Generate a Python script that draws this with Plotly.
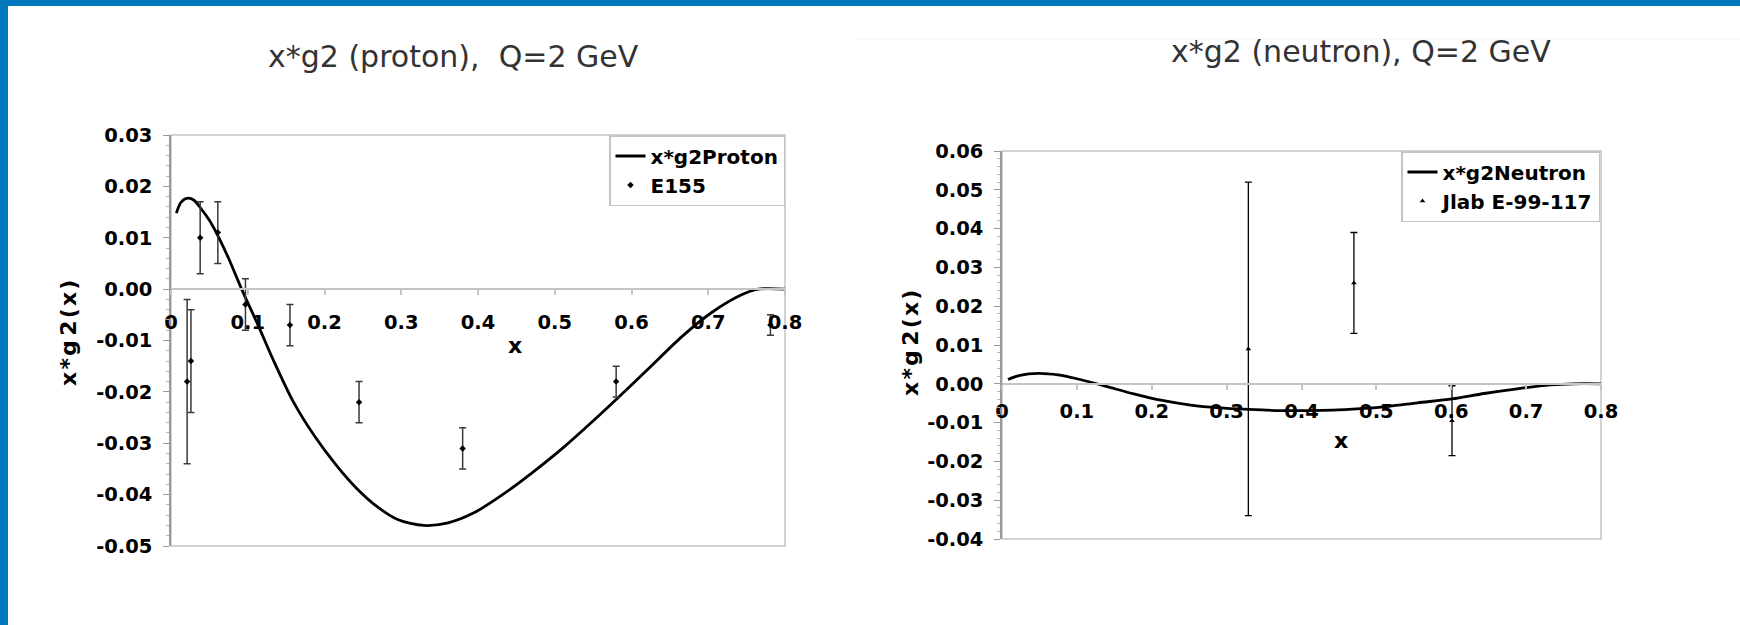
import plotly.graph_objects as go

W, H = 1740, 625

# ---------------- data ----------------
proton_curve_x = [0.007, 0.013, 0.022, 0.030, 0.040, 0.050, 0.059, 0.075, 0.092, 0.114, 0.133,
                  0.160, 0.187, 0.215, 0.242, 0.269, 0.296, 0.329, 0.361, 0.394, 0.432,
                  0.470, 0.513, 0.557, 0.580, 0.622, 0.666, 0.704, 0.742, 0.765, 0.800]
proton_curve_y = [0.0148, 0.0169, 0.0177, 0.0173, 0.0155, 0.0134, 0.0110, 0.0060, 0.0000, -0.0072, -0.0137,
                  -0.0221, -0.0286, -0.0342, -0.0388, -0.0424, -0.0449, -0.0460, -0.0455, -0.0436, -0.0400,
                  -0.0358, -0.0306, -0.0247, -0.0215, -0.0155, -0.0092, -0.0046, -0.0012, 0.0000, 0.0000]

e155_x = [0.021, 0.026, 0.038, 0.061, 0.097, 0.155, 0.245, 0.380, 0.580, 0.781]
e155_y = [-0.018, -0.014, 0.010, 0.011, -0.003, -0.007, -0.022, -0.031, -0.018, -0.007]
e155_err = [0.016, 0.010, 0.007, 0.006, 0.005, 0.004, 0.004, 0.004, 0.003, 0.002]

neutron_curve_x = [0.008, 0.024, 0.049, 0.075, 0.100, 0.138, 0.176, 0.214, 0.252, 0.290, 0.329,
                   0.372, 0.404, 0.441, 0.479, 0.517, 0.555, 0.601, 0.644, 0.688, 0.732, 0.764, 0.800]
neutron_curve_y = [0.0011, 0.0022, 0.0027, 0.0023, 0.0013, -0.0006, -0.0026, -0.0043, -0.0055, -0.0062, -0.0066,
                   -0.0069, -0.0069, -0.0068, -0.0064, -0.0058, -0.0049, -0.0039, -0.0025, -0.0013, -0.0003, 0.0000, 0.0000]

jlab_x = [0.329, 0.470, 0.601]
jlab_y = [0.009, 0.026, -0.0095]
jlab_err = [0.043, 0.013, 0.0090]

x_tickvals = [0, 0.1, 0.2, 0.3, 0.4, 0.5, 0.6, 0.7, 0.8]
x_ticktext = ["0", "0.1", "0.2", "0.3", "0.4", "0.5", "0.6", "0.7", "0.8"]
p_y_tickvals = [0.03, 0.02, 0.01, 0.0, -0.01, -0.02, -0.03, -0.04, -0.05]
p_y_ticktext = ["0.03", "0.02", "0.01", "0.00", "-0.01", "-0.02", "-0.03", "-0.04", "-0.05"]
n_y_tickvals = [0.06, 0.05, 0.04, 0.03, 0.02, 0.01, 0.0, -0.01, -0.02, -0.03, -0.04]
n_y_ticktext = ["0.06", "0.05", "0.04", "0.03", "0.02", "0.01", "0.00", "-0.01", "-0.02", "-0.03", "-0.04"]

p_yrange = [-0.05, 0.03]
n_yrange = [-0.04, 0.06]

# ---------------- layout geometry (pixels) ----------------
def px_x(x):
    return x / W

def px_y(y):
    return 1 - y / H

p_dom_x = [px_x(171), px_x(785)]
p_dom_y = [px_y(546), px_y(135)]
n_dom_x = [px_x(1002), px_x(1601)]
n_dom_y = [px_y(539), px_y(151)]

def zero_pos(dom, rng):
    f = (0 - rng[0]) / (rng[1] - rng[0])
    return dom[0] + f * (dom[1] - dom[0])

FONT = "DejaVu Sans"
tickfont = dict(family=FONT, size=19.5, color="black", weight="bold")
AXC = "#c4c4c4"
YAXC = "#9a9a9a"

fig = go.Figure()

fig.add_trace(go.Scatter(x=proton_curve_x, y=proton_curve_y, mode="lines",
                         line=dict(color="black", width=2.8, shape="spline", smoothing=0.8),
                         name="x*g2Proton", xaxis="x", yaxis="y", legend="legend"))
fig.add_trace(go.Scatter(x=e155_x, y=e155_y, mode="markers",
                         marker=dict(symbol="diamond", size=5, color="black"),
                         error_y=dict(type="data", array=e155_err, color="#3a3a3a", thickness=1.5, width=3.5),
                         name="E155", xaxis="x", yaxis="y", legend="legend"))

fig.add_trace(go.Scatter(x=neutron_curve_x, y=neutron_curve_y, mode="lines",
                         line=dict(color="black", width=2.8, shape="spline", smoothing=0.8),
                         name="x*g2Neutron", xaxis="x2", yaxis="y2", legend="legend2"))
fig.add_trace(go.Scatter(x=jlab_x, y=jlab_y, mode="markers",
                         marker=dict(symbol="triangle-up", size=5, color="black"),
                         error_y=dict(type="data", array=jlab_err, color="black", thickness=1.3, width=3.5),
                         name="Jlab E-99-117", xaxis="x2", yaxis="y2", legend="legend2"))

def xaxis_cfg(dom, pos, standoff):
    return dict(domain=dom, range=[0, 0.8], anchor="free", position=pos,
                tickmode="array", tickvals=x_tickvals, ticktext=x_ticktext,
                showline=True, linecolor=AXC, linewidth=1.5,
                ticks="outside", ticklen=5, tickcolor=AXC, tickwidth=1.5,
                ticklabelstandoff=standoff, automargin=False,
                showgrid=False, zeroline=False, tickfont=tickfont, fixedrange=True)

def yaxis_cfg(dom, rng, vals, text, anchor):
    return dict(domain=dom, range=rng, anchor=anchor,
                tickmode="array", tickvals=vals, ticktext=text,
                showline=True, linecolor=YAXC, linewidth=1.5,
                ticks="outside", ticklen=6, tickcolor=YAXC, tickwidth=1.2,
                ticklabelstandoff=7, automargin=False,
                minor=dict(tickmode="linear", tick0=0, dtick=0.002, ticks="outside",
                           ticklen=3, tickcolor="#b5b5b5", tickwidth=1),
                showgrid=False, zeroline=True, zerolinecolor=AXC, zerolinewidth=1.5,
                tickfont=tickfont, fixedrange=True)

legend_common = dict(bgcolor="white", bordercolor="#c4c4c4", borderwidth=1.5,
                     font=dict(family=FONT, size=20, color="black", weight="bold"),
                     itemwidth=30, tracegroupgap=0, xanchor="right", yanchor="top",
                     itemclick=False, itemdoubleclick=False)

fig.update_layout(
    template="none",
    width=W, height=H, autosize=False,
    margin=dict(l=0, r=0, t=0, b=0, pad=0, autoexpand=False),
    paper_bgcolor="white", plot_bgcolor="white",
    xaxis=xaxis_cfg(p_dom_x, zero_pos(p_dom_y, p_yrange), 11),
    yaxis=yaxis_cfg(p_dom_y, p_yrange, p_y_tickvals, p_y_ticktext, "x"),
    xaxis2=xaxis_cfg(n_dom_x, zero_pos(n_dom_y, n_yrange), 5),
    yaxis2=yaxis_cfg(n_dom_y, n_yrange, n_y_tickvals, n_y_ticktext, "x2"),
    legend=dict(x=px_x(785), y=px_y(135), **legend_common),
    legend2=dict(x=px_x(1600), y=px_y(151), **legend_common),
    showlegend=True,
)

shapes = [
    # plot frames
    dict(type="rect", xref="x domain", yref="y domain", x0=0, x1=1, y0=0, y1=1,
         line=dict(color=AXC, width=1.5), layer="below"),
    dict(type="rect", xref="x2 domain", yref="y2 domain", x0=0, x1=1, y0=0, y1=1,
         line=dict(color=AXC, width=1.5), layer="below"),
    # faint slide image edge
    dict(type="line", xref="paper", yref="paper", x0=px_x(856), x1=1, y0=px_y(39), y1=px_y(39),
         line=dict(color="#f5f5f5", width=1)),
    # blue slide border
    dict(type="rect", xref="paper", yref="paper", x0=0, x1=1, y0=px_y(6), y1=1,
         fillcolor="#0078BE", line=dict(width=0)),
    dict(type="rect", xref="paper", yref="paper", x0=0, x1=px_x(8), y0=0, y1=1,
         fillcolor="#0078BE", line=dict(width=0)),
]
fig.update_layout(shapes=shapes)

title_font = dict(family=FONT, size=30, color="#333333")
axis_title_font = dict(family=FONT, size=22, color="black", weight="bold")
HS = "\u200a"
ytitle = "x" + HS + "*" + HS + "g" + "\u2009" + "2" + HS + "(" + HS + "x" + HS + ")"
annotations = [
    dict(text="x*g2 (proton),\u00a0 Q=2 GeV", x=px_x(453), y=px_y(56), xref="paper", yref="paper",
         showarrow=False, font=title_font, xanchor="center", yanchor="middle"),
    dict(text="x*g2 (neutron), Q=2 GeV", x=px_x(1361), y=px_y(51), xref="paper", yref="paper",
         showarrow=False, font=title_font, xanchor="center", yanchor="middle"),
    dict(text=ytitle, x=px_x(68), y=px_y(333), xref="paper", yref="paper", textangle=-90,
         showarrow=False, font=axis_title_font, xanchor="center", yanchor="middle"),
    dict(text=ytitle, x=px_x(910), y=px_y(343), xref="paper", yref="paper", textangle=-90,
         showarrow=False, font=axis_title_font, xanchor="center", yanchor="middle"),
    dict(text="x", x=px_x(515), y=px_y(345), xref="paper", yref="paper",
         showarrow=False, font=axis_title_font, xanchor="center", yanchor="middle"),
    dict(text="x", x=px_x(1341), y=px_y(440), xref="paper", yref="paper",
         showarrow=False, font=axis_title_font, xanchor="center", yanchor="middle"),
]
fig.update_layout(annotations=annotations)

fig.write_html("out.html",
               post_script="document.body.style.margin='0';document.body.style.overflow='hidden';")
